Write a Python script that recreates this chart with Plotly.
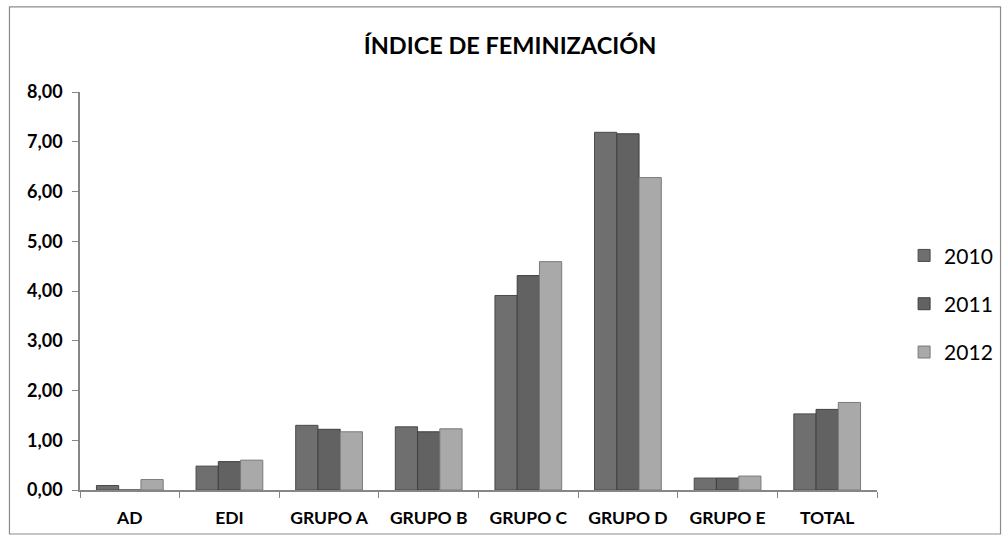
import plotly.graph_objects as go

categories = ["AD", "EDI", "GRUPO A", "GRUPO B", "GRUPO C", "GRUPO D", "GRUPO E", "TOTAL"]
years = ["2010", "2011", "2012"]
v2010 = [0.09, 0.48, 1.30, 1.27, 3.91, 7.19, 0.24, 1.53]
v2011 = [0.00, 0.57, 1.22, 1.17, 4.31, 7.16, 0.24, 1.62]
v2012 = [0.21, 0.60, 1.17, 1.23, 4.59, 6.28, 0.28, 1.76]
y_ticks = [0, 1, 2, 3, 4, 5, 6, 7, 8]
y_tick_labels = ["0,00", "1,00", "2,00", "3,00", "4,00", "5,00", "6,00", "7,00", "8,00"]

colors = ["#6f6f6f", "#626262", "#a9a9a9"]
edge = ["#4a4a4a", "#3f3f3f", "#7a7a7a"]

fig = go.Figure()
for i, (name, vals) in enumerate(zip(years, [v2010, v2011, v2012])):
    fig.add_trace(go.Bar(
        x=categories, y=vals, name=name,
        marker=dict(color=colors[i], line=dict(color=edge[i], width=1)),
        legendgroup=name,
    ))

fig.update_layout(
    width=1006, height=540,
    margin=dict(l=80, r=129, t=92, b=50, autoexpand=False),
    paper_bgcolor="white", plot_bgcolor="white",
    barmode="group", bargap=0.33, bargroupgap=0,
    font=dict(family="Lato, Liberation Sans, sans-serif", color="black"),
    title=dict(text="<b>ÍNDICE DE FEMINIZACIÓN</b>", x=0.507, xanchor="center",
               y=0.915, yanchor="middle", font=dict(size=23.5, family="Lato, sans-serif")),
    showlegend=True,
    legend=dict(x=1.034, y=0.64, xanchor="left", yanchor="top",
                font=dict(size=21, family="Lato, sans-serif"),
                tracegroupgap=18, itemwidth=30, bgcolor="rgba(0,0,0,0)"),
    shapes=[dict(type="rect", xref="paper", yref="paper",
                 x0=-0.0885, x1=1.155, y0=-0.1106, y1=1.214,
                 line=dict(color="#8c8c8c", width=1.2), fillcolor="rgba(0,0,0,0)")],
)
fig.update_xaxes(
    showline=True, linecolor="#868686", linewidth=1.5,
    ticks="outside", tickson="boundaries", ticklen=6, tickcolor="#868686",
    tickfont=dict(size=17.5, family="Lato, sans-serif"),
    tickprefix="<b>", ticksuffix="</b>", ticklabelstandoff=11,
    showgrid=False,
)
fig.update_yaxes(
    range=[0, 8], tickvals=y_ticks, ticktext=["<b>%s</b>" % t for t in y_tick_labels],
    showline=True, linecolor="#868686", linewidth=1.5,
    ticks="outside", ticklen=6, tickcolor="#868686",
    tickfont=dict(size=18, family="Lato, sans-serif"), ticklabelstandoff=6,
    showgrid=False, zeroline=False,
)
fig.write_html("out.html", config={"displayModeBar": False},
               post_script="document.body.style.margin='0';")
